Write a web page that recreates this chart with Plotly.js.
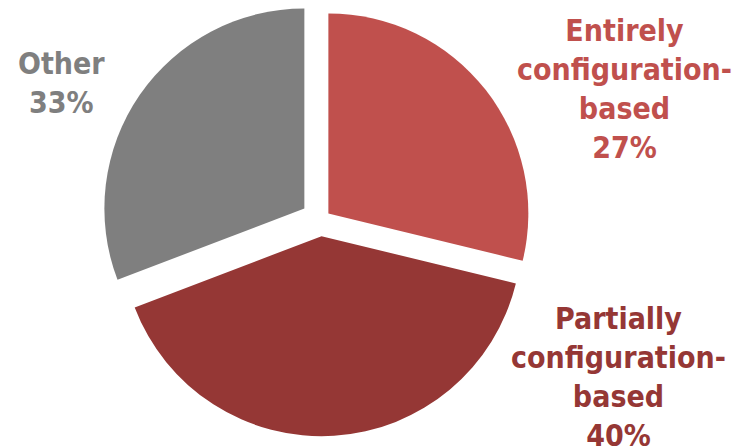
<!DOCTYPE html>
<html>
<head>
<meta charset="utf-8">
<script src="https://cdn.plot.ly/plotly-3.0.1.min.js"></script>
<style>html,body{margin:0;padding:0;background:#fff;}#chart{width:752px;height:447px;}</style>
</head>
<body>
<div id="chart"></div>
<script>
const categories = ["Entirely configuration-based", "Partially configuration-based", "Other"];
const labelLines = ["Entirely<br>configuration-<br>based", "Partially<br>configuration-<br>based", "Other"];
// printed percentages in the labels
const labelPercents = [27, 40, 33];
// slice sizes as drawn
const sliceValues = [28.8, 40.4, 30.8];
const colors = ["#C0504D", "#953735", "#7F7F7F"];

const FONT = "'DejaVu Sans Condensed', 'DejaVu Sans', sans-serif";
const labelPos = [
  {x: 0.831, y: 0.8015},
  {x: 0.823, y: 0.1567},
  {x: 0.082, y: 0.815}
];

const annotations = categories.map((c, i) => ({
  xref: 'paper', yref: 'paper',
  x: labelPos[i].x, y: labelPos[i].y,
  xanchor: 'center', yanchor: 'middle',
  text: labelLines[i] + '<br>' + labelPercents[i] + '%',
  showarrow: false,
  align: 'center',
  font: {family: FONT, size: 30, color: colors[i], weight: 'bold'}
}));

const trace = {
  type: 'pie',
  labels: categories,
  values: sliceValues,
  sort: false,
  direction: 'clockwise',
  rotation: 0,
  pull: [0.05, 0.083, 0.098],
  marker: {colors: colors, line: {width: 0}},
  textinfo: 'none',
  hoverinfo: 'label',
  domain: {x: [0.1342, 0.7182], y: [0.01745, 1]},
  showlegend: false
};

Plotly.newPlot('chart', [trace], {
  width: 752, height: 447,
  margin: {l: 0, r: 0, t: 0, b: 0},
  paper_bgcolor: '#ffffff',
  showlegend: false,
  annotations: annotations
}, {staticPlot: true});
</script>
</body>
</html>
